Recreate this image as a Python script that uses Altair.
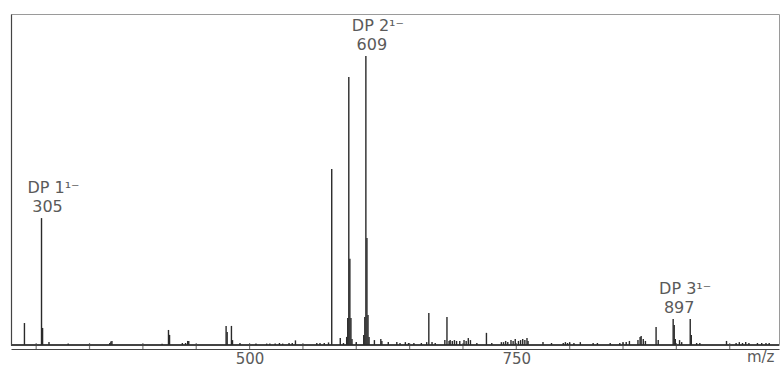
import altair as alt
import pandas as pd

FONT = "DejaVu Sans"
INK = "#2a2a2a"
TEXT = "#5a5a5a"

# Centroided peak list: m/z and relative intensity (% of the base peak, m/z 609)
mz = [
    289, 305, 306, 312, 330, 369, 370, 371, 418, 424, 425, 437, 440, 442, 443,
    478, 479, 483, 484, 491, 506, 516, 519, 524, 528, 531, 537, 540, 543, 563,
    566, 570, 574, 577, 585, 588, 591, 592, 593, 594, 595, 596, 600, 607, 608,
    609, 610, 611, 612, 617, 623, 624, 630, 638, 641, 646, 649, 654, 661, 666,
    668, 671, 674, 683, 685, 687, 688, 690, 692, 694, 697, 701, 703, 705, 707,
    713, 722, 727, 736, 738, 740, 742, 745, 747, 749, 752, 754, 756, 758, 760,
    761, 775, 783, 794, 796, 798, 800, 804, 810, 822, 826, 838, 847, 850, 853,
    856, 864, 866, 867, 869, 871, 881, 883, 897, 898, 899, 903, 905, 913, 914,
    919, 922, 947, 956, 959, 962, 965, 968, 976, 980, 984, 987,
]
intensity = [
    7.6, 43.9, 5.9, 1.0, 0.5, 0.7, 1.2, 1.4, 0.4, 5.2, 3.5, 0.7, 0.7, 1.4, 1.4,
    6.6, 4.5, 6.6, 1.7, 0.7, 0.5, 0.5, 0.5, 0.5, 0.7, 0.5, 0.7, 0.7, 1.6, 0.7,
    0.7, 0.7, 0.9, 60.9, 2.4, 0.7, 2.8, 9.3, 92.7, 29.8, 9.3, 2.1, 1.0, 3.5, 9.7,
    100.0, 37.0, 10.4, 2.8, 1.7, 2.1, 1.4, 1.0, 1.0, 0.7, 1.0, 0.7, 0.7, 0.7, 1.0,
    11.1, 1.0, 0.7, 1.7, 9.7, 1.4, 1.7, 1.4, 1.7, 1.4, 1.4, 1.7, 1.4, 2.4, 1.7,
    0.7, 4.2, 0.7, 1.0, 1.0, 1.4, 1.0, 1.7, 1.4, 2.1, 1.4, 1.7, 2.1, 1.7, 2.4,
    1.4, 1.0, 0.7, 0.7, 1.0, 0.7, 1.0, 0.7, 1.0, 0.7, 0.7, 0.7, 0.7, 1.0, 1.0,
    1.4, 1.7, 2.8, 3.1, 2.1, 1.4, 6.2, 1.7, 9.0, 6.9, 2.1, 1.7, 1.0, 9.0, 3.5,
    0.7, 0.7, 1.4, 0.7, 1.0, 0.7, 1.0, 0.7, 0.7, 0.7, 0.7, 0.7,
]

# Axis ticks every 50 m/z, numbered only at 500 and 750
tick_values = [300, 350, 400, 450, 500, 550, 600, 650, 700, 750, 800, 850, 900, 950]
numbered_ticks = [500, 750]

# Annotated deprotonated ions
ion_mz = [305, 609, 897]
ion_names = ["DP 1¹⁻", "DP 2¹⁻", "DP 3¹⁻"]

peaks = pd.DataFrame({"mz": mz, "intensity": intensity})
height_of = dict(zip(mz, intensity))
ions = pd.DataFrame({
    "mz": ion_mz,
    "name": ion_names,
    "value": [str(m) for m in ion_mz],
    "intensity": [height_of[m] for m in ion_mz],
})
ticks = pd.DataFrame({"mz": tick_values})

x_scale = alt.Scale(domain=[276.4, 996.2], nice=False, zero=False)
y_scale = alt.Scale(domain=[0, 114.5], nice=False)

x_axis = alt.Axis(
    values=numbered_ticks, offset=4, grid=False, ticks=False,
    domain=True, domainColor="#444444", domainWidth=1.2,
    labelFont=FONT, labelFontSize=15, labelColor=TEXT, labelPadding=2,
    title="m/z", titleFont=FONT, titleFontSize=15, titleFontWeight="normal",
    titleColor=TEXT, titleX=763, titleY=12, titleAlign="right",
    titleBaseline="alphabetic",
)
y_axis = alt.Axis(
    grid=False, ticks=False, labels=False, title=None,
    domain=True, domainColor="#444444", domainWidth=1.2,
)

X = alt.X("mz:Q", scale=x_scale, axis=x_axis)

spectrum = alt.Chart(peaks).mark_rule(color=INK, strokeWidth=1.4).encode(
    x=X,
    y=alt.Y("intensity:Q", scale=y_scale, axis=y_axis),
    y2=alt.Y2(datum=0),
)

baseline = alt.Chart(peaks).mark_rule(color="#444444", strokeWidth=1).encode(
    y=alt.Y(datum=0, scale=y_scale, axis=y_axis),
)

tick_marks = alt.Chart(ticks).mark_tick(
    color="#444444", thickness=1.2, size=7, orient="vertical", yOffset=1.5
).encode(
    x=X,
    y=alt.Y(datum=0, scale=y_scale, axis=y_axis),
)

value_labels = alt.Chart(ions).mark_text(
    font=FONT, fontSize=16, color=TEXT, align="center", baseline="alphabetic",
    dx=6, dy=-6,
).encode(
    x=X,
    y=alt.Y("intensity:Q", scale=y_scale, axis=y_axis),
    text="value:N",
)

name_labels = alt.Chart(ions).mark_text(
    font=FONT, fontSize=16, color=TEXT, align="center", baseline="alphabetic",
    dx=12, dy=-25,
).encode(
    x=X,
    y=alt.Y("intensity:Q", scale=y_scale, axis=y_axis),
    text="name:N",
)

chart = alt.layer(
    baseline, tick_marks, spectrum, value_labels, name_labels
).properties(
    width=768,
    height=331,
    autosize=alt.AutoSizeParams(type="none"),
    padding={"left": 11, "top": 14, "right": 1, "bottom": 21},
    background="white",
).configure_view(
    stroke="#9a9a9a", strokeWidth=1,
)

chart.save("out.html", embed_options={"renderer": "svg", "actions": False})
